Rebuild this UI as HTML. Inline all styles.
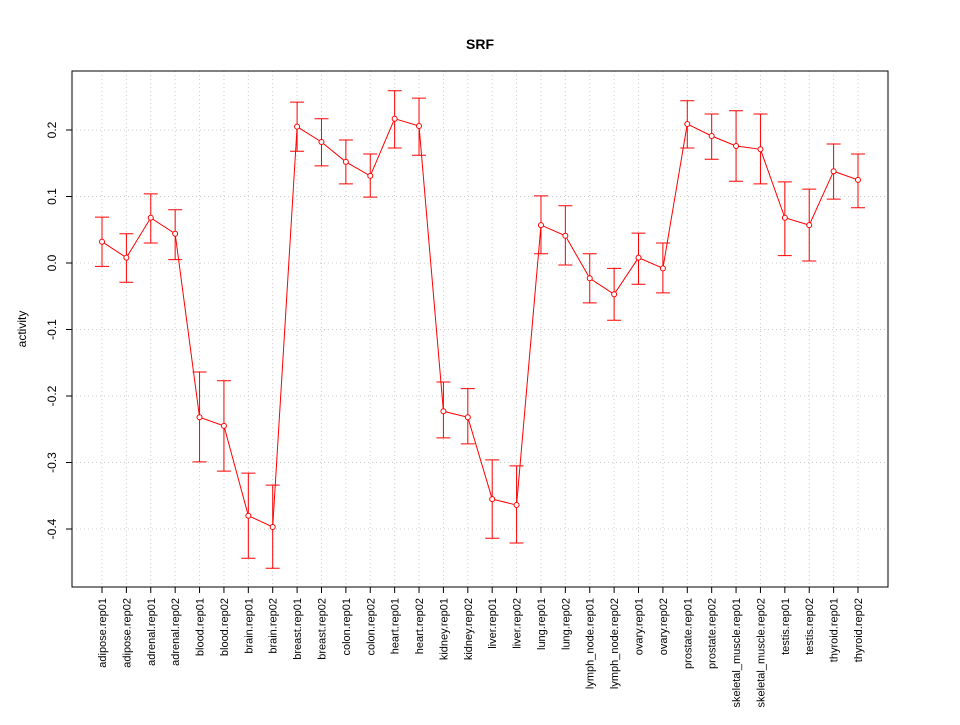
<!DOCTYPE html>
<html><head><meta charset="utf-8"><style>
body{margin:0;background:#fff;font-family:"Liberation Sans",Arial,sans-serif}
</style></head><body>
<svg id="chart" width="960" height="720" xmlns="http://www.w3.org/2000/svg" font-family="Liberation Sans, Arial, sans-serif">
<rect width="960" height="720" fill="#fff"/>
<text x="480" y="49" text-anchor="middle" font-weight="bold" font-size="14">SRF</text>
<text transform="translate(26,329) rotate(-90)" text-anchor="middle" font-size="12">activity</text>
<g id="grid"></g><g id="axes"></g><g id="marks"></g>
<rect x="72" y="71" width="816" height="516" fill="none" stroke="#000"/>
</svg>
<script>
const categories=["adipose.rep01","adipose.rep02","adrenal.rep01","adrenal.rep02","blood.rep01","blood.rep02","brain.rep01","brain.rep02","breast.rep01","breast.rep02","colon.rep01","colon.rep02","heart.rep01","heart.rep02","kidney.rep01","kidney.rep02","liver.rep01","liver.rep02","lung.rep01","lung.rep02","lymph_node.rep01","lymph_node.rep02","ovary.rep01","ovary.rep02","prostate.rep01","prostate.rep02","skeletal_muscle.rep01","skeletal_muscle.rep02","testis.rep01","testis.rep02","thyroid.rep01","thyroid.rep02"];
const values=[0.032,0.008,0.068,0.044,-0.232,-0.245,-0.380,-0.397,0.205,0.182,0.152,0.131,0.217,0.206,-0.223,-0.232,-0.355,-0.364,0.057,0.041,-0.023,-0.047,0.008,-0.008,0.209,0.191,0.176,0.171,0.068,0.057,0.138,0.125];
const upper=[0.069,0.044,0.104,0.080,-0.164,-0.177,-0.316,-0.334,0.242,0.217,0.185,0.164,0.259,0.248,-0.179,-0.189,-0.296,-0.305,0.101,0.086,0.014,-0.008,0.045,0.030,0.244,0.224,0.229,0.224,0.122,0.111,0.179,0.164];
const lower=[-0.005,-0.029,0.030,0.005,-0.299,-0.313,-0.444,-0.459,0.168,0.146,0.119,0.099,0.173,0.162,-0.263,-0.272,-0.414,-0.421,0.014,-0.003,-0.060,-0.086,-0.032,-0.045,0.173,0.156,0.123,0.119,0.011,0.003,0.096,0.083];
const yTicks=[-0.4,-0.3,-0.2,-0.1,0.0,0.1,0.2];
const yTickLabels=["-0.4","-0.3","-0.2","-0.1","0.0","0.1","0.2"];
const NS="http://www.w3.org/2000/svg";
function xs(i){return 102+i*(756/(categories.length-1));}
function ys(v){return 263-v*665;}
function mk(tag,attrs,parent,text){const e=document.createElementNS(NS,tag);for(const k in attrs)e.setAttribute(k,attrs[k]);if(text!==undefined)e.textContent=text;document.getElementById(parent).appendChild(e);return e;}
yTicks.forEach((t,i)=>{
 const y=ys(t);
 let g=mk('line',{x1:72,x2:888,y1:y,y2:y,stroke:'#ccc','stroke-dasharray':'1,3'},'grid');
 
 
 let tk=mk('line',{x1:66,x2:72,y1:y,y2:y,stroke:'#000'},'axes');
 
 
 let lb=mk('text',{transform:`translate(56,${y}) rotate(-90)`,'text-anchor':'middle','font-size':12},'axes',yTickLabels[i]);
 
 
});
categories.forEach((c,i)=>{
 const x=xs(i);
 let g=mk('line',{x1:x,x2:x,y1:71,y2:587,stroke:'#ccc','stroke-dasharray':'1,3'},'grid');
 
 
 let tk=mk('line',{x1:x,x2:x,y1:587,y2:593,stroke:'#000'},'axes');
 
 
 let lb=mk('text',{transform:`translate(${x+4},598) rotate(-90)`,'text-anchor':'end','font-size':11},'axes',c);
 
 
});
let pts=values.map((v,i)=>xs(i)+','+ys(v)).join(' ');
let pl=mk('polyline',{points:pts,fill:'none',stroke:'#f00','stroke-width':1},'marks');


values.forEach((v,i)=>{
 const x=xs(i),yu=ys(upper[i]),yl=ys(lower[i]),y=ys(v);
 let e=mk('path',{d:`M${x},${yu}V${yl}M${x-7},${yu}H${x+7}M${x-7},${yl}H${x+7}`,stroke:'#f00',fill:'none'},'marks');
 
 
 let p=mk('circle',{cx:x,cy:y,r:2.5,fill:'#fff',stroke:'#f00'},'marks');
 
 
});
</script>
</body></html>
